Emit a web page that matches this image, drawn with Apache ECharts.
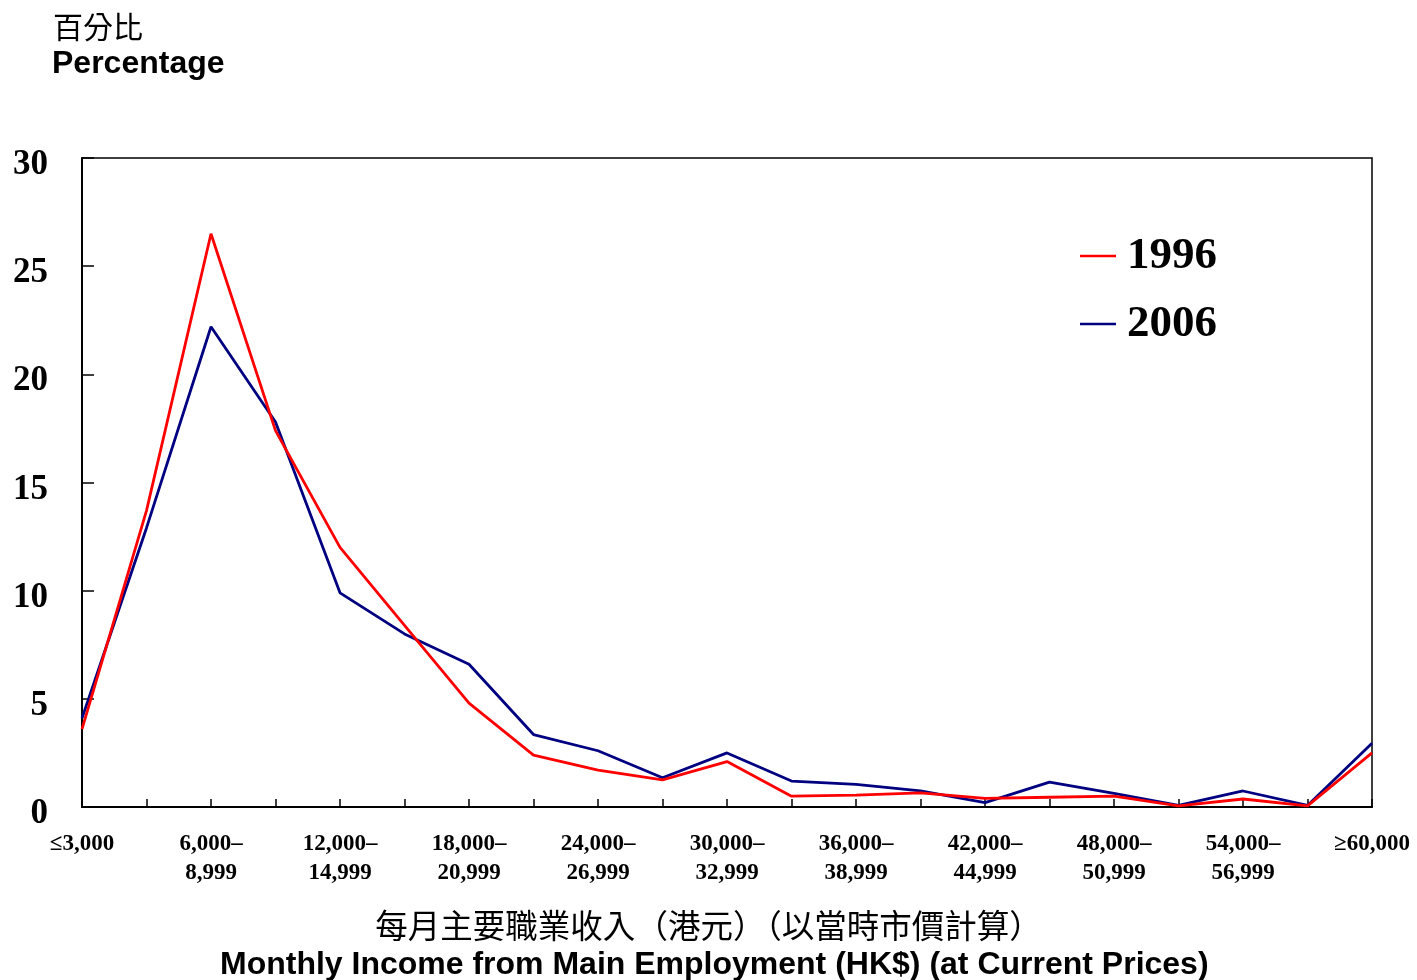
<!DOCTYPE html>
<html>
<head>
<meta charset="utf-8">
<script src="https://cdn.jsdelivr.net/npm/echarts@6/dist/echarts.min.js"></script>
<style>
html,body{margin:0;padding:0;background:#fff;}
#chart{width:1417px;height:980px;}
</style>
</head>
<body>
<div id="chart"></div>
<script>
const categories = [
  '≤3,000', '3,000–\n5,999', '6,000–\n8,999', '9,000–\n11,999', '12,000–\n14,999',
  '15,000–\n17,999', '18,000–\n20,999', '21,000–\n23,999', '24,000–\n26,999', '27,000–\n29,999',
  '30,000–\n32,999', '33,000–\n35,999', '36,000–\n38,999', '39,000–\n41,999', '42,000–\n44,999',
  '45,000–\n47,999', '48,000–\n50,999', '51,000–\n53,999', '54,000–\n56,999', '57,000–\n59,999',
  '≥60,000'
];
const values1996 = [3.6, 13.7, 26.5, 17.4, 12.0, 8.4, 4.8, 2.4, 1.7, 1.25, 2.1, 0.5, 0.55, 0.65, 0.4, 0.45, 0.5, 0.05, 0.37, 0.05, 2.5];
const values2006 = [4.1, 12.9, 22.2, 17.8, 9.9, 8.0, 6.6, 3.35, 2.6, 1.35, 2.5, 1.2, 1.05, 0.75, 0.2, 1.15, 0.63, 0.08, 0.74, 0.07, 2.95];
const yTicks = { min: 0, max: 30, interval: 5 };
const seriesNames = ['1996', '2006'];
const seriesColors = ['#FF0000', '#000080'];

const chart = echarts.init(document.getElementById('chart'));
const serif = '"Liberation Serif", "Times New Roman", serif';
const sans = '"Liberation Sans", Arial, sans-serif';
const cjk = '"Noto Sans CJK TC", "Noto Sans CJK SC", sans-serif';

chart.setOption({
  animation: false,
  backgroundColor: '#fff',
  grid: {
    left: 82, right: 45, top: 158, height: 649,
    show: true, borderColor: '#000', borderWidth: 1.5, backgroundColor: 'transparent'
  },
  legend: {
    orient: 'vertical',
    left: 1075, top: 228,
    icon: 'rect',
    itemWidth: 36, itemHeight: 2.5,
    itemGap: 22,
    data: seriesNames,
    textStyle: { fontFamily: serif, fontWeight: 'bold', fontSize: 45, color: '#000', lineHeight: 46, padding: [0, 0, 0, 6] }
  },
  xAxis: {
    type: 'category',
    data: categories,
    boundaryGap: false,
    axisLine: { lineStyle: { color: '#000', width: 2 } },
    axisTick: { inside: true, length: 8, interval: 0, lineStyle: { color: '#000', width: 1.5 } },
    axisLabel: {
      interval: 1, margin: 23, color: '#000',
      fontFamily: serif, fontWeight: 'bold', fontSize: 23, lineHeight: 29
    },
    splitLine: { show: false }
  },
  yAxis: {
    type: 'value',
    min: yTicks.min, max: yTicks.max, interval: yTicks.interval,
    axisLine: { show: true, lineStyle: { color: '#000', width: 2 } },
    axisTick: { show: true, inside: true, length: 12, lineStyle: { color: '#000', width: 1.5 } },
    axisLabel: {
      margin: 34, verticalAlign: 'middle',
      formatter: v => '{a|' + v + '}',
      rich: { a: { color: '#000', fontFamily: serif, fontWeight: 'bold', fontSize: 35, lineHeight: 35, padding: [14, 0, 0, 0] } }
    },
    splitLine: { show: false }
  },
  series: seriesNames.map((n, i) => ({
    name: n,
    type: 'line',
    data: i === 0 ? values1996 : values2006,
    showSymbol: false,
    symbol: 'none',
    lineStyle: { color: seriesColors[i], width: 2.8 },
    itemStyle: { color: seriesColors[i] },
    z: i === 0 ? 3 : 2
  })),
  graphic: [
    { type: 'text', left: 53, top: 12, style: { text: '百分比', font: 'normal 30px ' + cjk, fill: '#000' } },
    { type: 'text', left: 52, top: 48, style: { text: 'Percentage', font: 'bold 32px ' + sans, fill: '#000' } },
    { type: 'text', left: 'center', top: 909, style: { text: '每月主要職業收入（港元）（以當時市價計算）', font: 'normal 32.5px ' + cjk, fill: '#000' } },
    { type: 'text', left: 220, top: 949, style: { text: 'Monthly Income from Main Employment (HK$) (at Current Prices)', font: 'bold 32px ' + sans, fill: '#000' } }
  ]
});
</script>
</body>
</html>
